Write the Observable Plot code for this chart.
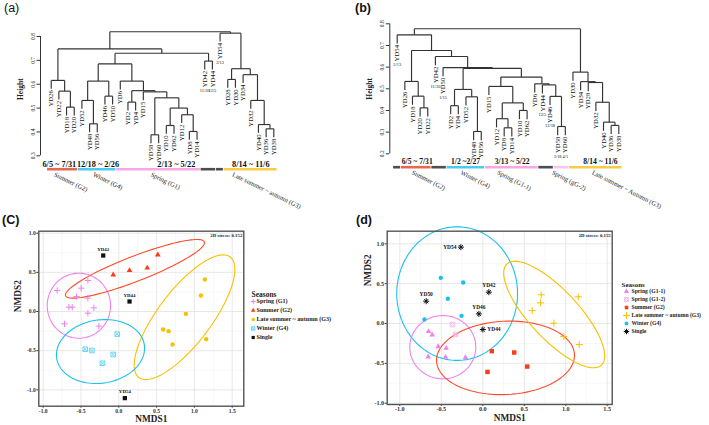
<!DOCTYPE html>
<html><head><meta charset="utf-8">
<script src="https://cdn.jsdelivr.net/npm/d3@7"></script>
<script src="https://cdn.jsdelivr.net/npm/@observablehq/plot@0.6"></script>
<style>
body{margin:0;background:#fff;}
#root{position:relative;width:709px;height:425px;overflow:hidden;background:#fff;}
.plabel{position:absolute;font-family:"Liberation Sans",Arial,sans-serif;font-size:12.5px;line-height:1;color:#111;}
</style></head><body><div id="root"></div>
<script>
// ---------------- DATA ----------------
// (a) dendrogram
const leavesA = ["YD26","YD22","YD18","YD20","YD52","YD48","YD56","YD46","YD50","YD6","YD2","YD4","YD15","YD58","YD60","YD10","YD62","YD12","YD8","YD14","YD42","YD44","YD54","YD28","YD30","YD34","YD32","YD40","YD36","YD38"];
// merges: [left, right, height]; string = leaf, number = earlier merge (1-based)
const mergesA = [
  ["YD18","YD20",0.504],["YD22",1,0.571],["YD26",2,0.616],
  ["YD48","YD56",0.434],["YD52",4,0.532],["YD46","YD50",0.55],[5,6,0.613],
  ["YD2","YD4",0.525],["YD58","YD60",0.388],["YD10","YD62",0.427],["YD8","YD14",0.402],
  ["YD12",11,0.472],[10,12,0.50],[9,13,0.543],["YD15",14,0.568],[8,15,0.573],["YD6",16,0.613],
  [7,17,0.685],["YD42","YD44",0.697],[18,19,0.73],[3,20,0.748],
  ["YD28","YD30",0.62],["YD36","YD38",0.413],["YD40",23,0.431],["YD32",24,0.532],["YD34",25,0.64],
  [22,26,0.665],["YD54",27,0.814],[21,28,0.82]
];
const ticksA = [0.3,0.4,0.5,0.6,0.7,0.8];
const leafDatesA = [["YD54","2/13"],["YD42","11/30"],["YD44","12/5"]];
const barsA = [["YD26","YD20","summer"],["YD52","YD50","winter"],["YD6","YD14","spring"],["YD42","YD44","single"],["YD54","YD54","single"],["YD28","YD38","autumn"]];
const rangesA = ["6/5 ~ 7/31","12/18 ~ 2/26","2/13 ~ 5/22","8/14 ~ 11/6"];
const groupNamesA = ["Summer (G2)","Winter (G4)","Spring (G1)","Late summer ~ autumn (G3)"];

// (b) dendrogram
const leavesB = ["YD54","YD26","YD18","YD20","YD22","YD42","YD50","YD2","YD4","YD52","YD48","YD56","YD15","YD12","YD8","YD14","YD10","YD62","YD6","YD44","YD46","YD58","YD60","YD30","YD34","YD28","YD32","YD40","YD36","YD38"];
const mergesB = [
  ["YD20","YD22",0.412],["YD18",1,0.466],["YD26",2,0.534],
  ["YD2","YD4",0.422],["YD48","YD56",0.303],["YD52",5,0.463],[4,6,0.497],
  ["YD8","YD14",0.32],["YD12",8,0.362],["YD10","YD62",0.40],[9,10,0.435],["YD15",11,0.511],
  ["YD58","YD60",0.326],["YD46",13,0.465],["YD44",14,0.518],["YD6",15,0.523],[12,16,0.554],
  [7,17,0.594],["YD50",18,0.598],["YD42",19,0.649],[3,20,0.677],["YD54",21,0.749],
  ["YD36","YD38",0.331],["YD40",23,0.346],["YD32",24,0.438],["YD28",25,0.529],["YD34",26,0.533],["YD30",27,0.577],
  [22,28,0.777]
];
const ticksB = [0.2,0.3,0.4,0.5,0.6,0.7,0.8];
const leafDatesB = [["YD54","2/13"],["YD42","11/30"],["YD50","1/15"],["YD44","12/5"],["YD46","12/18"],["YD58","3/18"],["YD60","4/1"]];
const barsB = [["YD54","YD54","single"],["YD26","YD22","summer"],["YD42","YD50","single"],["YD2","YD56","winter"],["YD15","YD6","spring"],["YD44","YD46","single"],["YD58","YD60","spring2"],["YD30","YD38","autumn"]];
const rangesB = ["6/5 ~ 7/31","1/2 ~2/27","3/13 ~ 5/22","8/14 ~ 11/6"];
const groupNamesB = ["Summer (G2)","Winter (G4)","Spring (G1-1)","Spring (gG-2)","Late summer ~ Autumn (G3)"];

// (c) NMDS
const cSpring = [[-0.815,0.268],[-0.497,0.298],[-0.409,0.396],[-0.559,0.191],[-0.409,0.170],[-0.66,0.055],[-0.616,0.055],[-0.33,0.047],[-0.409,-0.021],[-0.718,-0.157],[-0.264,-0.187]];
const cSummer = [[-0.074,0.469],[0.142,0.524],[0.376,0.557],[0.516,0.724]];
const cAutumn = [[1.138,0.409],[1.086,0.204],[0.887,-0.03],[0.587,-0.23],[0.658,-0.251],[0.711,-0.421],[1.156,-0.353]];
const cWinter = [[-0.021,-0.289],[-0.444,-0.481],[-0.356,-0.498],[-0.074,-0.549],[-0.215,-0.66]];
const cSingle = [["YD42",-0.206,0.715],["YD44",0.142,0.128],["YD54",0.08,-1.106]];
// ellipses: [cx, cy, semi-axis a, semi-axis b, angle deg]
const cEllipses = [[-0.528,0.074,0.419,0.415,0],[0.214,0.545,0.98,0.16,20.5],[0.869,-0.073,0.978,0.347,51.6],[-0.242,-0.511,0.586,0.404,8]];
const cLegend = ["Spring (G1)","Summer (G2)","Late summer ~ autumn (G3)","Winter (G4)","Single"];
const xTicks = [-1,-0.5,0,0.5,1,1.5];
const yTicks = [-1,-0.5,0,0.5,1];

// (d) NMDS
const dSpring1 = [[-0.654,-0.1],[-0.61,-0.142],[-0.538,-0.289],[-0.441,-0.31],[-0.658,-0.418],[-0.449,-0.423],[-0.208,-0.427]];
const dSpring2 = [[-0.365,-0.013],[-0.329,-0.138]];
const dSummer = [[0.109,-0.347],[0.379,-0.364],[0.535,-0.54],[0.057,-0.607]];
const dAutumn = [[0.704,0.36],[0.696,0.259],[0.596,0.163],[1.15,0.335],[0.857,0.004],[0.978,-0.163],[1.162,-0.264]];
const dWinter = [[-0.506,0.573],[-0.236,0.515],[-0.421,0.31],[-0.256,0.096],[-0.703,0.05]];
const dSingle = [["YD54",-0.264,0.958],["YD42",0.073,0.393],["YD50",-0.682,0.28],["YD46",-0.047,0.121],["YD44",0.001,-0.075]];
const dEllipses = [[-0.309,0.375,0.728,0.838,0],[-0.482,-0.297,0.398,0.397,0],[0.274,-0.431,0.832,0.46,3],[0.861,0.113,0.852,0.3,-48.4]];
const dLegend = ["Spring (G1-1)","Spring (G1-2)","Summer (G2)","Late summer ~ autumn (G3)","Winter (G4)","Single"];

// ---------------- STYLE ----------------
const FONT = "'Liberation Serif','Times New Roman',serif";
const barColor = {summer:"#E8674F", winter:"#4EC9F0", spring:"#F6A8E6", spring2:"#F9C4EF", autumn:"#F9CC48", single:"#4D4D4D"};
const PINK="#EE82EE", LPINK="#F5B5EC", RED="#FF3A14", YEL="#F7C000", CYAN="#1CC0EE", LCYAN="#5CD2F2", BLACK="#111";

const root = document.getElementById("root");
function place(node, left, top){const d=document.createElement("div");d.style.position="absolute";d.style.left=left+"px";d.style.top=top+"px";d.appendChild(node);root.appendChild(d);}
function label(t,left,top,bold){const d=document.createElement("div");d.className="plabel";d.textContent=t;d.style.left=left+"px";d.style.top=top+"px";if(bold)d.style.fontWeight="bold";root.appendChild(d);}

// ---------------- DENDROGRAM ----------------
function layout(leaves, merges, hang){
  const pos = new Map(leaves.map((d,i)=>[d,i+1]));
  const nodes=[], segs=[], leafEnd=new Map();
  const get = r => typeof r === "string" ? {x:pos.get(r), leaf:r} : nodes[r-1];
  for (const [a,b,h] of merges){
    const A=get(a), B=get(b);
    for (const C of [A,B]){
      const bottom = C.leaf ? h-hang : C.h;
      if (C.leaf) leafEnd.set(C.leaf, bottom);
      segs.push({x1:C.x,y1:h,x2:C.x,y2:bottom});
    }
    segs.push({x1:A.x,y1:h,x2:B.x,y2:h});
    nodes.push({x:(A.x+B.x)/2,h});
  }
  return {pos,segs,leafEnd};
}
function dendro(c){
  const L = layout(c.leaves, c.merges, c.hang);
  const n = c.leaves.length;
  const pxU = (c.yBot-c.yTop)/(c.yDomain[1]-c.yDomain[0]);
  const barY = c.yDomain[0] - (c.barPx - c.yBot)/pxU;
  const step = (c.x1-c.x0)/(n-1);
  const axisXd = 1 - (c.x0-c.axisPx)/step;
  return Plot.plot({
    width:c.W, height:c.H, marginLeft:c.axisPx, marginRight:0, marginTop:c.yTop, marginBottom:c.H-c.yBot,
    x:{domain:[1,n], range:[c.x0,c.x1], axis:null},
    y:{domain:c.yDomain},
    color:{type:"identity"},
    style:{fontFamily:FONT, background:"transparent", overflow:"visible", color:"#222"},
    marks:[
      Plot.ruleX([axisXd],{y1:c.ticks[0], y2:c.ticks[c.ticks.length-1], stroke:"#333", strokeWidth:1}),
      Plot.axisY({ticks:c.ticks, tickSize:3.5, tickFormat:()=>"", stroke:"#333"}),
      Plot.text(c.ticks,{y:d=>d, text:d=>d.toFixed(1), frameAnchor:"left", dx:-7.5, rotate:-90, fontSize:5.5, textAnchor:"middle", fill:"#222"}),
      Plot.text(["Height"],{frameAnchor:"left", dx:-20, dy:c.titleDy, rotate:-90, fontSize:7.5, fontWeight:"bold", textAnchor:"middle", fill:"#222"}),
      Plot.link(L.segs,{x1:"x1",y1:"y1",x2:"x2",y2:"y2", stroke:"#333", strokeWidth:1.15}),
      Plot.text(c.leaves,{x:d=>L.pos.get(d), y:d=>L.leafEnd.get(d), text:d=>d, rotate:-90, textAnchor:"end", dy:1.5, fontSize:6.7, fill:"#111"}),
      Plot.text(c.leafDates,{x:d=>L.pos.get(d[0]), y:d=>L.leafEnd.get(d[0]), text:d=>d[1], dy:21, fontSize:4.4, fill:"#111"}),
      Plot.ruleY(c.bars,{y:barY, x1:d=>L.pos.get(d[0])-0.47, x2:d=>L.pos.get(d[1])+0.43, stroke:d=>barColor[d[2]], strokeWidth:2.6}),
      Plot.text(c.ranges,{x:(d,i)=>c.rangeAt[i], y:barY, text:d=>d, dy:c.rangeDy, fontWeight:"bold", fontSize:c.rangeFont, fill:"#111"}),
      Plot.text(c.groups,{x:(d,i)=>c.groupAt[i], y:barY, text:d=>d, rotate:c.angle, textAnchor:"start", lineAnchor:"top", dy:2.5, fontSize:6.6, fill:"#222"})
    ]
  });
}

place(dendro({leaves:leavesA, merges:mergesA, hang:0.035, ticks:ticksA, leafDates:leafDatesA, bars:barsA,
  ranges:rangesA, rangeAt:[2.06,7.1,17.3,27], groups:groupNamesA, groupAt:[1.56,6.64,14.16,24.8],
  W:350, H:210, axisPx:40, x0:50.7, x1:273.3, yTop:36, yBot:155.3, yDomain:[0.3,0.8], barPx:168.7,
  angle:26, rangeFont:8.3, rangeDy:-5, titleDy:-7}), 0, 0);

place(dendro({leaves:leavesB, merges:mergesB, hang:0.04, ticks:ticksB, leafDates:leafDatesB, bars:barsB,
  ranges:rangesB, rangeAt:[3.62,9.94,16.05,27.6], groups:groupNamesB, groupAt:[3.13,9.5,14.3,21.46,26.7],
  W:359, H:210, axisPx:39.3, x0:46.7, x1:268.3, yTop:23.3, yBot:153.3, yDomain:[0.2,0.8], barPx:166.7,
  angle:27, rangeFont:7.6, rangeDy:-6, titleDy:0}), 350, 0);

// ---------------- NMDS ----------------
function markers(data, kind, color, r, o){
  switch(kind){
    case "plus": return [Plot.dot(data,{...o, symbol:"plus", stroke:color, r, strokeWidth:1})];
    case "triangle": return [Plot.dot(data,{...o, symbol:"triangle", fill:color, stroke:"none", r})];
    case "circle": return [Plot.dot(data,{...o, symbol:"circle", fill:color, stroke:"none", r})];
    case "square": return [Plot.dot(data,{...o, symbol:"square", fill:color, stroke:"none", r})];
    case "squareX": return [Plot.dot(data,{...o, symbol:"square", fill:"none", stroke:color, strokeWidth:0.9, r}),
                            Plot.dot(data,{...o, symbol:"times", stroke:color, strokeWidth:0.9, r:r*0.78})];
    case "asterisk": return [Plot.dot(data,{...o, symbol:"plus", stroke:color, strokeWidth:1, r}),
                             Plot.dot(data,{...o, symbol:"times", stroke:color, strokeWidth:1, r:r*0.95})];
  }
}
function ellipsePts(e){
  const [cx,cy,a,b,ang]=e, t0=ang*Math.PI/180, pts=[];
  for(let i=0;i<=120;i++){const t=i/120*2*Math.PI;
    pts.push([cx+a*Math.cos(t)*Math.cos(t0)-b*Math.sin(t)*Math.sin(t0), cy+a*Math.cos(t)*Math.sin(t0)+b*Math.sin(t)*Math.cos(t0)]);}
  return pts;
}
const mid = a => a.slice(1).map((d,i)=>(d+a[i])/2);
function nmds(c){
  const P={x:d=>d[0], y:d=>d[1]};
  const marks=[
    Plot.ruleX(mid(xTicks),{stroke:"#f1f1f1", strokeWidth:0.6}),
    Plot.ruleY(mid(yTicks),{stroke:"#f1f1f1", strokeWidth:0.6}),
    Plot.ruleX(xTicks,{stroke:"#e2e2e2", strokeWidth:0.8}),
    Plot.ruleY(yTicks,{stroke:"#e2e2e2", strokeWidth:0.8}),
    Plot.axisX({ticks:xTicks, tickFormat:d=>d.toFixed(1), tickSize:2, tickPadding:0.5, fontSize:c.tickFont, label:null, fill:"#333", stroke:"#333"}),
    Plot.axisY({ticks:yTicks, tickFormat:d=>d.toFixed(1), tickSize:2, tickPadding:1, fontSize:c.tickFont, label:null, fill:"#333", stroke:"#333"}),
    Plot.text(["NMDS1"],{frameAnchor:"bottom", dx:10, dy:c.x1dy, fontSize:9.3, fill:"#222"}),
    Plot.text(["NMDS2"],{frameAnchor:"left", dx:c.y2dx, dy:c.y2dy, rotate:-90, fontSize:9.3, fill:"#222"}),
    Plot.text([c.stress],{frameAnchor:"top-right", dx:-1.5, dy:2, textAnchor:"end", lineAnchor:"top", fontSize:4.8, fill:"#222"}),
  ];
  c.ellipses.forEach((e,i)=>marks.push(Plot.line(ellipsePts(e),{...P, stroke:c.ellipseColors[i], strokeWidth:1.1})));
  c.layers.forEach(([data,kind,color,r])=>marks.push(...markers(data,kind,color,r,P)));
  const S={x:d=>d[1], y:d=>d[2]};
  marks.push(...markers(c.singles, c.singleKind, BLACK, c.singleR, S));
  const side = c.labelSide;
  marks.push(Plot.text(c.singles.filter(d=>!side[d[0]]),{...S, text:d=>d[0], dy:-6.5, fontSize:c.ptFont, fill:"#111"}));
  marks.push(Plot.text(c.singles.filter(d=>side[d[0]]==="left"),{...S, text:d=>d[0], dx:-4.5, textAnchor:"end", fontSize:c.ptFont, fill:"#111"}));
  marks.push(Plot.text(c.singles.filter(d=>side[d[0]]==="right"),{...S, text:d=>d[0], dx:4.5, textAnchor:"start", fontSize:c.ptFont, fill:"#111"}));
  marks.push(Plot.frame({stroke:"#555", strokeWidth:1.4}));
  return Plot.plot({
    width:c.W, height:c.H, marginLeft:c.mL, marginRight:c.mR, marginTop:c.mT, marginBottom:c.mB,
    x:{domain:c.xDomain}, y:{domain:c.yDomain},
    style:{fontFamily:FONT, fontWeight:"bold", background:"transparent", overflow:"visible", color:"#222"},
    marks
  });
}
function legend(c){
  const marks=[Plot.text([c.title],{frameAnchor:"top-left", dx:c.titleDx, dy:c.titleDy, fontSize:c.titleFont, textAnchor:"start", fill:"#222"})];
  c.items.forEach((it,i)=>{const [kind,color,r]=c.kinds[i];
    marks.push(...markers([it], kind, color, r, {y:d=>d, frameAnchor:"left", dx:c.markDx}));});
  marks.push(Plot.text(c.items,{y:d=>d, text:d=>d, frameAnchor:"left", dx:c.textDx, textAnchor:"start", fontSize:c.font, fill:"#222"}));
  return Plot.plot({width:c.W, height:c.H, marginLeft:0, marginRight:0, marginTop:c.y0, marginBottom:c.H-c.y1,
    y:{type:"point", domain:c.items, padding:0, axis:null},
    style:{fontFamily:FONT, fontWeight:"bold", background:"transparent", overflow:"visible"},
    marks});
}

place(nmds({W:350,H:225,mL:38.3,mR:106.7,mT:30.7,mB:19.3, xDomain:[-1.058,1.653], yDomain:[-1.209,1.0255],
  tickFont:5.6, ptFont:4.9, stress:"2D stress: 0.152", x1dy:15.3, y2dx:-21, y2dy:-6.5,
  ellipses:cEllipses, ellipseColors:[PINK,"#FF4A2A",YEL,CYAN],
  layers:[[cSpring,"plus",PINK,2.2],[cSummer,"triangle",RED,2.1],[cAutumn,"circle",YEL,2.2],[cWinter,"squareX",LCYAN,2.6]],
  singles:cSingle, singleKind:"square", singleR:2.4, labelSide:{}}), 0, 200);

place(nmds({W:359,H:225,mL:36.7,mR:97.3,mT:30.7,mB:21, xDomain:[-1.152,1.56], yDomain:[-1.016,1.158],
  tickFont:6.2, ptFont:5.4, stress:"2D stress: 0.155", x1dy:16.5, y2dx:-19.5, y2dy:-31.5,
  ellipses:dEllipses, ellipseColors:[CYAN,PINK,"#FF4A2A",YEL],
  layers:[[dSpring1,"triangle",PINK,2.1],[dSpring2,"squareX",LPINK,2.6],[dSummer,"square",RED,2.5],[dAutumn,"plus",YEL,2.4],[dWinter,"circle",CYAN,2.2]],
  singles:dSingle, singleKind:"asterisk", singleR:2.1, labelSide:{YD54:"left", YD44:"right"}}), 350, 200);

place(legend({items:cLegend, title:"Seasons", W:100, H:56, y0:15.7, y1:51.7, titleDx:3, titleDy:-9.7, titleFont:7.5,
  markDx:4.7, textDx:8, font:6.1,
  kinds:[["plus",PINK,1.7],["triangle",RED,1.7],["circle",YEL,1.7],["squareX",LCYAN,2],["square",BLACK,1.8]]}), 248, 285);

place(legend({items:dLegend, title:"Seasons", W:94, H:60, y0:14, y1:55.3, titleDx:6, titleDy:-8.3, titleFont:7,
  markDx:11, textDx:16, font:5.7,
  kinds:[["triangle",PINK,1.9],["squareX",LPINK,2.2],["square",RED,2],["plus",YEL,2.3],["circle",CYAN,1.9],["asterisk",BLACK,1.9]]}), 615, 276);

label("(a)",4,1.5,false);
label("(b)",355,1.5,true);
label("(C)",2,214,true);
label("(d)",356,214,true);
</script></body></html>
